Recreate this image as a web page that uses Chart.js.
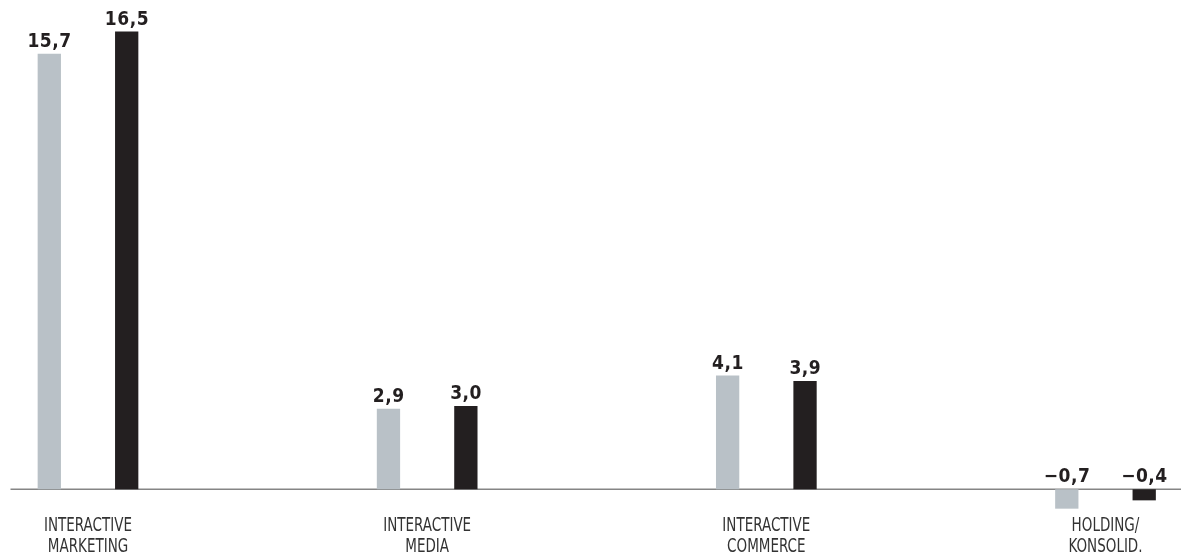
<!DOCTYPE html>
<html lang="de">
<head>
<meta charset="utf-8">
<script src="https://cdn.jsdelivr.net/npm/chart.js@4.4.1/dist/chart.umd.min.js"></script>
<style>
  html, body { margin: 0; padding: 0; background: #fff; }
  #wrap { width: 1181px; height: 555px; position: relative; }
</style>
</head>
<body>
<div id="wrap"><canvas id="grafico"></canvas></div>
<script>
// Segmente (EBIT in Mio. EUR), Vorjahr x aktuelles Jahr
const categorias = [
  ['INTERACTIVE', 'MARKETING'],
  ['INTERACTIVE', 'MEDIA'],
  ['INTERACTIVE', 'COMMERCE'],
  ['HOLDING/', 'KONSOLID.'],
];
const anoAnterior = [15.7, 2.9, 4.1, -0.7];
const anoAtual = [16.5, 3.0, 3.9, -0.4];

const CINZA = '#b9c1c7';
const PRETO = '#231f20';

// 15.7 -> "15,7", -0.7 -> "−0,7"
function fmt(v) {
  return (v < 0 ? '\u2212' : '') + Math.abs(v).toFixed(1).replace('.', ',');
}

// linha de base em y = 0, quase na largura toda
const linhaBase = {
  id: 'linhaBase',
  beforeDatasetsDraw(chart) {
    const { ctx } = chart;
    const y = chart.scales.y.getPixelForValue(0);
    ctx.save();
    ctx.strokeStyle = '#858585';
    ctx.lineWidth = 1.5;
    ctx.beginPath();
    ctx.moveTo(10.5, y);
    ctx.lineTo(chart.width, y);
    ctx.stroke();
    ctx.restore();
  },
};

// valores em cima de cada barra (negativos ficam em cima da linha de base)
const rotulos = {
  id: 'rotulos',
  afterDatasetsDraw(chart) {
    const { ctx } = chart;
    ctx.save();
    ctx.font = 'bold 19px "DejaVu Sans Condensed", "DejaVu Sans", sans-serif';
    ctx.fillStyle = PRETO;
    ctx.textAlign = 'center';
    ctx.textBaseline = 'alphabetic';
    ctx.letterSpacing = '0.5px';
    chart.data.datasets.forEach((ds, i) => {
      chart.getDatasetMeta(i).data.forEach((bar, j) => {
        const topo = Math.min(bar.y, bar.base);
        ctx.fillText(fmt(ds.data[j]), bar.x + 0.25, topo - 7);
      });
    });
    ctx.restore();
  },
};

// nomes das categorias: fonte estreita, esticada na vertical (a fonte original é bem condensada)
const categoriasEixo = {
  id: 'categoriasEixo',
  afterDraw(chart) {
    const { ctx } = chart;
    const x = chart.scales.x;
    const y0 = chart.scales.y.getPixelForValue(0);
    ctx.save();
    ctx.font = '15px "Liberation Sans Narrow", "DejaVu Sans Condensed", sans-serif';
    ctx.fillStyle = '#333333';
    ctx.textAlign = 'center';
    ctx.textBaseline = 'alphabetic';
    x.ticks.forEach((t, i) => {
      const px = x.getPixelForTick(i);
      const linhas = [].concat(chart.data.labels[t.value]);
      linhas.forEach((txt, k) => {
        ctx.save();
        ctx.translate(px, y0 + 42 + k * 20.7);
        ctx.scale(1, 1.34);
        ctx.fillText(txt, 0, 0);
        ctx.restore();
      });
    });
    ctx.restore();
  },
};

new Chart(document.getElementById('grafico'), {
  type: 'bar',
  data: {
    labels: categorias,
    datasets: [
      { label: 'Vorjahr', data: anoAnterior, backgroundColor: CINZA },
      { label: 'Geschäftsjahr', data: anoAtual, backgroundColor: PRETO },
    ],
  },
  options: {
    responsive: true, maintainAspectRatio: false, animation: false,
    layout: { padding: { top: 1, bottom: 38, left: 88, right: 75.5 } },
    datasets: { bar: { categoryPercentage: 0.4564, barPercentage: 0.301, clip: false, borderWidth: 0 } },
    plugins: { legend: { display: false }, tooltip: { enabled: false } },
    scales: {
      x: {
        offset: false,
        position: { y: 0 },
        grid: { display: false, drawTicks: false },
        border: { display: false },
        ticks: { display: false, autoSkip: false },
      },
      y: { display: false, min: -1, max: 17.6 },
    },
  },
  plugins: [linhaBase, rotulos, categoriasEixo],
});
</script>
</body>
</html>
